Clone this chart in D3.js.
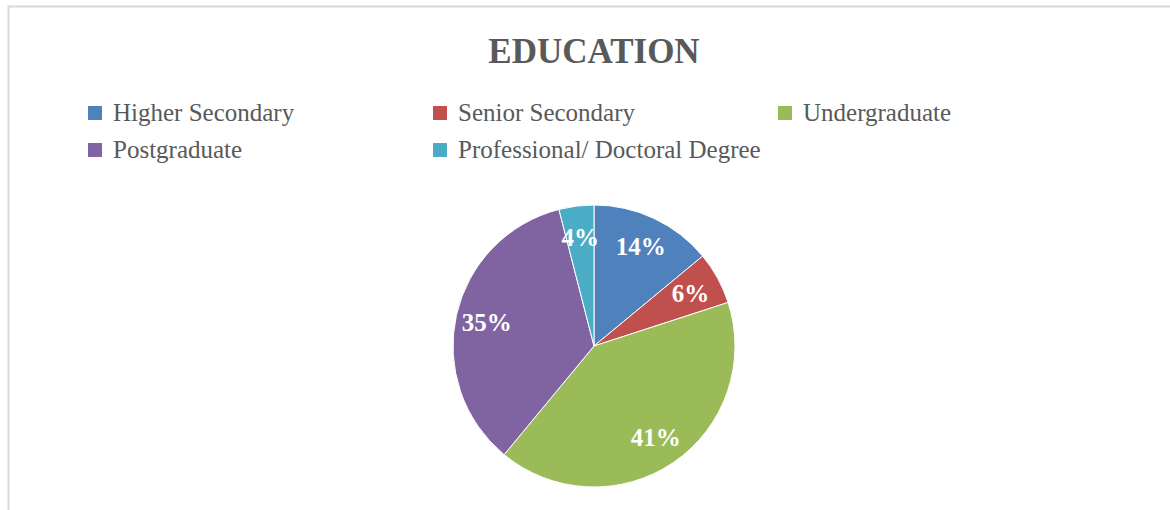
<!DOCTYPE html>
<html>
<head>
<meta charset="utf-8">
<script src="https://cdn.jsdelivr.net/npm/d3@7.9.0/dist/d3.min.js"></script>
<style>
  html, body { margin: 0; padding: 0; background: #fff; }
  svg { display: block; }
</style>
</head>
<body>
<svg id="chart" width="1170" height="510"></svg>
<script>
const categories = ['Higher Secondary', 'Senior Secondary', 'Undergraduate', 'Postgraduate', 'Professional/ Doctoral Degree'];
const shares = [14, 6, 41, 35, 4];
const sliceColors = ['#4f81bd', '#c0504d', '#9bbb59', '#8064a2', '#4bacc6'];

const width = 1170;
const height = 510;
const serif = "'Liberation Serif', 'DejaVu Serif', serif";

const svg = d3.select('#chart');

// chart frame (only top and left edges fall inside the picture)
svg.append('rect')
  .attr('x', 8.5)
  .attr('y', 6.5)
  .attr('width', width + 20)
  .attr('height', height + 20)
  .attr('fill', 'none')
  .attr('stroke', '#d9d9d9')
  .attr('stroke-width', 2);

svg.append('text')
  .attr('x', 594)
  .attr('y', 63)
  .attr('text-anchor', 'middle')
  .attr('font-family', serif)
  .attr('font-weight', 'bold')
  .attr('font-size', 35)
  .attr('fill', '#595959')
  .text('EDUCATION');

// legend, three columns
let data = categories.map((name, i) => ({ name, value: shares[i], color: sliceColors[i] }));

let legend = svg.append('g');
let items = legend.selectAll('g')
  .data(data)
  .join('g')
  .attr('transform', (d, i) => `translate(${88 + (i % 3) * 345}, ${121 + Math.floor(i / 3) * 37})`);

items.append('rect')
  .attr('x', 0)
  .attr('y', -15)
  .attr('width', 14)
  .attr('height', 14)
  .attr('fill', d => d.color);

items.append('text')
  .attr('x', 25)
  .attr('y', 0)
  .attr('font-family', serif)
  .attr('font-size', 25)
  .attr('fill', '#595959')
  .text(d => d.name);

// pie
const cx = 594;
const cy = 346;
const radius = 141;

let pie = d3.pie()
  .value(d => d.value)
  .sort(null);

let arcGenerator = d3.arc()
  .innerRadius(0)
  .outerRadius(radius);

let labelArc = d3.arc()
  .innerRadius(radius * 0.78)
  .outerRadius(radius * 0.78);

let arcData = pie(data);

let g = svg.append('g').attr('transform', `translate(${cx}, ${cy})`);

g.selectAll('path')
  .data(arcData)
  .join('path')
  .attr('d', arcGenerator)
  .attr('fill', d => d.data.color)
  .attr('stroke', '#fff')
  .attr('stroke-width', 1);

g.selectAll('text')
  .data(arcData)
  .join('text')
  .attr('transform', d => `translate(${labelArc.centroid(d)})`)
  .attr('text-anchor', 'middle')
  .attr('dy', '0.35em')
  .attr('font-family', serif)
  .attr('font-weight', 'bold')
  .attr('font-size', 25)
  .attr('fill', '#fff')
  .text(d => `${d.data.value}%`);
</script>
</body>
</html>
